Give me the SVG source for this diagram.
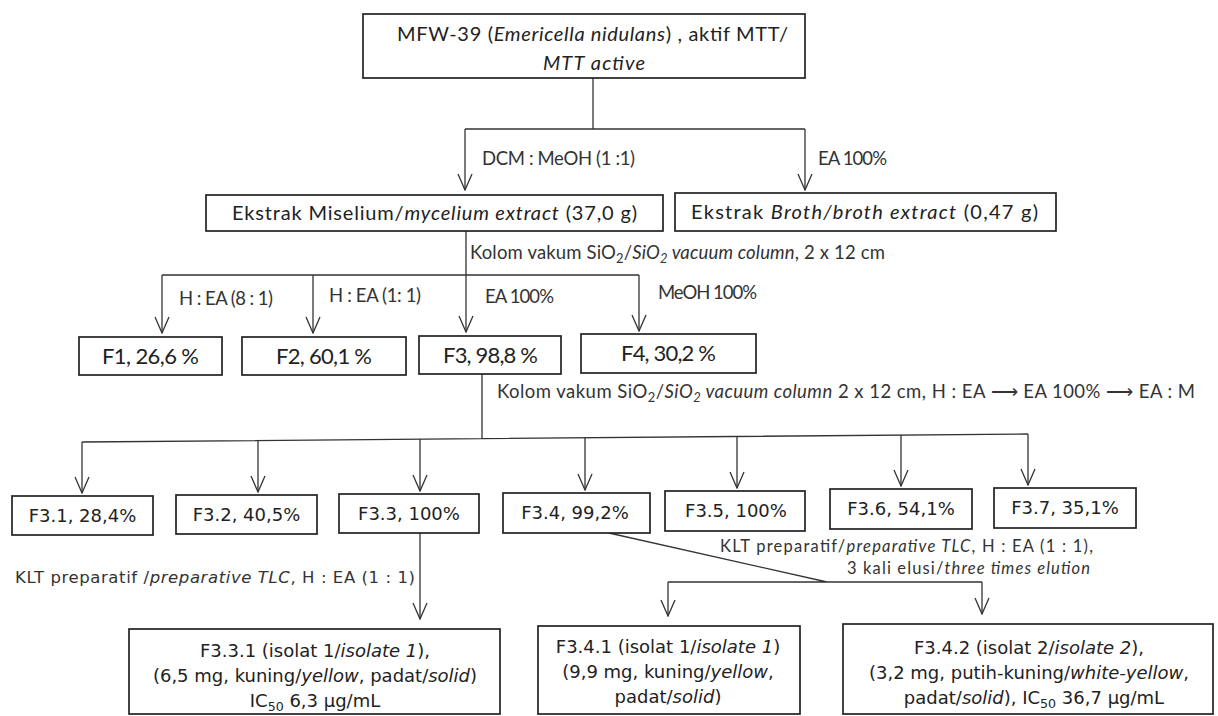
<svg xmlns="http://www.w3.org/2000/svg" width="1218" height="716" viewBox="0 0 1218 716">
<style>
  .box { fill: #fff; stroke: #222; stroke-width: 1.7; }
  .ln { fill: none; stroke: #333; stroke-width: 1.3; }
  .arr { marker-end: url(#ah); }
  .cb { font-family: Lato, "Open Sans", "Liberation Sans", sans-serif; fill: #222; }
  .bt { font-size: 20px; }
  .fb { font-size: 22px; }
  .lb { font-size: 18.5px; fill: #333; }
  .ls { font-size: 16.5px; fill: #333; }
  .vd { font-family: "DejaVu Sans", "Liberation Sans", sans-serif; font-size: 18px; fill: #222; }
  .vl { font-family: "DejaVu Sans", "Liberation Sans", sans-serif; font-size: 16.5px; fill: #333; }
  .c { text-anchor: middle; }
  .i { font-style: italic; }
  .sub { font-size: 70%; }
</style>
<defs>
  <marker id="ah" viewBox="-1 -8 18 16" refX="16" refY="0" markerWidth="18" markerHeight="16" markerUnits="userSpaceOnUse" orient="auto">
    <path d="M0,-7 L16,0 L0,7" fill="none" stroke="#333" stroke-width="1.3"/>
  </marker>
</defs>

<g id="connectors">
  <path class="ln" d="M593,78 V129 M465,129 H805"/>
  <path class="ln arr" d="M465,129 V190"/>
  <path class="ln arr" d="M805,129 V190"/>
  <path class="ln" d="M466,231 V275 M162,275 H639"/>
  <path class="ln arr" d="M162,275 V333"/>
  <path class="ln arr" d="M313,275 V333"/>
  <path class="ln arr" d="M466,275 V332"/>
  <path class="ln arr" d="M639,275 V331"/>
  <path class="ln" d="M482,374 V438.6 M82,442 L1028,434"/>
  <path class="ln arr" d="M82,442 V493"/>
  <path class="ln arr" d="M258,440.5 V492"/>
  <path class="ln arr" d="M420,439.1 V491"/>
  <path class="ln arr" d="M585,437.7 V490"/>
  <path class="ln arr" d="M737,436.5 V488"/>
  <path class="ln arr" d="M901,435.1 V486"/>
  <path class="ln arr" d="M1028,434 V485"/>
  <path class="ln arr" d="M420,533 V619"/>
  <path class="ln" d="M609,533 L827,582 M668,582 H982"/>
  <path class="ln arr" d="M668,582 V616"/>
  <path class="ln arr" d="M982,582 V614"/>
  <text class="cb lb" x="482" y="165" textLength="153">DCM : MeOH (1 :1)</text>
  <text class="cb lb" x="818" y="165" textLength="69">EA 100%</text>
  <text class="cb lb" x="470" y="259" textLength="415">Kolom vakum SiO<tspan class="sub" dy="4">2</tspan><tspan dy="-4">/</tspan><tspan class="i">SiO<tspan class="sub" dy="4">2</tspan><tspan dy="-4"> vacuum column</tspan></tspan>, 2 x 12 cm</text>
  <text class="cb lb" x="179" y="305" textLength="94">H : EA (8 : 1)</text>
  <text class="cb lb" x="329" y="302" textLength="92">H : EA (1: 1)</text>
  <text class="cb lb" x="485" y="303" textLength="69">EA 100%</text>
  <text class="cb lb" x="658" y="299" textLength="99">MeOH 100%</text>
  <text class="cb lb" x="497" y="398" textLength="698">Kolom vakum SiO<tspan class="sub" dy="4">2</tspan><tspan dy="-4">/</tspan><tspan class="i">SiO<tspan class="sub" dy="4">2</tspan><tspan dy="-4"> vacuum column</tspan></tspan> 2 x 12 cm, H : EA ⟶ EA 100% ⟶ EA : M</text>
  <text class="vl" x="15" y="583" textLength="400">KLT preparatif /<tspan class="i">preparative TLC</tspan>, H : EA (1 : 1)</text>
  <text class="cb ls" x="720" y="552" textLength="373">KLT preparatif/<tspan class="i">preparative TLC</tspan>, H : EA (1 : 1),</text>
  <text class="cb ls" x="847" y="574" textLength="243">3 kali elusi/<tspan class="i">three times elution</tspan></text>
</g>

<g id="n-top">
  <rect class="box" x="363" y="14" width="442" height="64"/>
  <text class="cb bt" x="397" y="41" textLength="391">MFW-39 (<tspan class="i">Emericella nidulans</tspan>) , aktif MTT/</text>
  <text class="cb bt i" x="543" y="70" textLength="102">MTT active</text>
</g>
<g id="n-miselium">
  <rect class="box" x="206" y="195" width="457" height="36"/>
  <text class="cb bt" x="232" y="220" textLength="405">Ekstrak Miselium/<tspan class="i">mycelium extract</tspan> (37,0 g)</text>
</g>
<g id="n-broth">
  <rect class="box" x="675" y="193" width="381" height="38"/>
  <text class="cb bt" x="691" y="219" textLength="347">Ekstrak <tspan class="i">Broth/broth extract</tspan> (0,47 g)</text>
</g>
<g id="n-f1"><rect class="box" x="79" y="337" width="143" height="38"/><text class="cb fb" x="102" y="364" textLength="97">F1, 26,6 %</text></g>
<g id="n-f2"><rect class="box" x="242" y="337" width="164" height="38"/><text class="cb fb" x="276" y="364" textLength="96">F2, 60,1 %</text></g>
<g id="n-f3"><rect class="box" x="419" y="336" width="142" height="38"/><text class="cb fb" x="443" y="363" textLength="95">F3, 98,8 %</text></g>
<g id="n-f4"><rect class="box" x="581" y="334" width="175" height="39"/><text class="cb fb" x="621" y="361" textLength="95">F4, 30,2 %</text></g>

<g id="n-f31"><rect class="box" x="12" y="496" width="141" height="39"/><text class="vd c" x="82.5" y="522">F3.1, 28,4%</text></g>
<g id="n-f32"><rect class="box" x="176" y="495" width="141" height="39"/><text class="vd c" x="246.5" y="521">F3.2, 40,5%</text></g>
<g id="n-f33"><rect class="box" x="339" y="494" width="140" height="39"/><text class="vd c" x="409" y="520">F3.3, 100%</text></g>
<g id="n-f34"><rect class="box" x="503" y="493" width="147" height="40"/><text class="vd c" x="575" y="519">F3.4, 99,2%</text></g>
<g id="n-f35"><rect class="box" x="665" y="491" width="140" height="40"/><text class="vd c" x="736" y="517">F3.5, 100%</text></g>
<g id="n-f36"><rect class="box" x="830" y="489" width="142" height="40"/><text class="vd c" x="901" y="515">F3.6, 54,1%</text></g>
<g id="n-f37"><rect class="box" x="994" y="488" width="142" height="40"/><text class="vd c" x="1065" y="514">F3.7, 35,1%</text></g>

<g id="n-f331">
  <rect class="box" x="129" y="629" width="371" height="85"/>
  <text class="vd c" x="315" y="657">F3.3.1 (isolat 1/<tspan class="i">isolate 1</tspan>),</text>
  <text class="vd c" x="315" y="682">(6,5 mg, kuning/<tspan class="i">yellow</tspan>, padat/<tspan class="i">solid</tspan>)</text>
  <text class="vd c" x="315" y="707">IC<tspan class="sub" dy="4">50</tspan><tspan dy="-4"> 6,3 µg/mL</tspan></text>
</g>
<g id="n-f341">
  <rect class="box" x="538" y="626" width="262" height="88"/>
  <text class="vd c" x="668" y="653">F3.4.1 (isolat 1/<tspan class="i">isolate 1</tspan>)</text>
  <text class="vd c" x="668" y="678">(9,9 mg, kuning/<tspan class="i">yellow</tspan>,</text>
  <text class="vd c" x="668" y="703">padat/<tspan class="i">solid</tspan>)</text>
</g>
<g id="n-f342">
  <rect class="box" x="843" y="624" width="370" height="90"/>
  <text class="vd c" x="1029" y="654">F3.4.2 (isolat 2/<tspan class="i">isolate 2</tspan>),</text>
  <text class="vd c" x="1029" y="679">(3,2 mg, putih-kuning/<tspan class="i">white-yellow</tspan>,</text>
  <text class="vd c" x="1034" y="704">padat/<tspan class="i">solid</tspan>),  IC<tspan class="sub" dy="4">50</tspan><tspan dy="-4">  36,7 µg/mL</tspan></text>
</g>
</svg>
